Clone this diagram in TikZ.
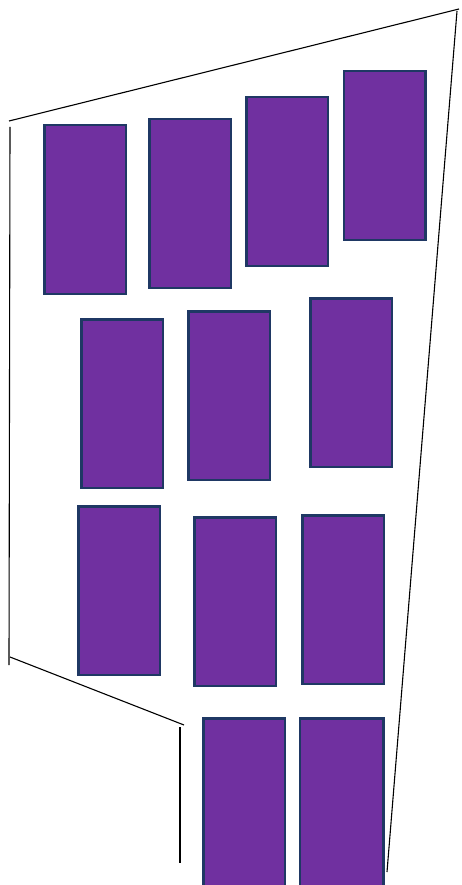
\documentclass[tikz,border=0pt]{standalone}
\usepackage{xcolor}
\usepackage{tikz}

\definecolor{plotpurple}{HTML}{7030A0}
\definecolor{plotedge}{HTML}{1F3864}

\begin{document}
\begin{tikzpicture}[
    x=1pt, y=-1pt,
    plot/.style={rectangle, draw=plotedge, fill=plotpurple, line width=2.5pt,
        minimum width=81.5pt, minimum height=168.5pt, inner sep=0pt},
    boundary/.style={draw=black, line width=1.1pt}
]
\useasboundingbox (0,0) rectangle (461,885);
\clip (0,0) rectangle (461,885);

% Boundary corners
    \coordinate (tl) at (9,121);
    \coordinate (tr) at (459,9);
    \coordinate (rt) at (457,11);
    \coordinate (rb) at (387,872);
    \coordinate (lt) at (10,127);
    \coordinate (lb) at (9,665);
    \coordinate (dl) at (10,657);
    \coordinate (dr) at (184,725);
    \coordinate (st) at (180,727);
    \coordinate (sb) at (180,863);

% --- Row 1
    \node[plot] (p11) at (85,209.5) {};
    \node[plot] (p12) at (190,203.5) {};
    \node[plot] (p13) at (287,181.5) {};
    \node[plot] (p14) at (384.5,155.5) {};
% --- Row 2
    \node[plot] (p21) at (122,403.5) {};
    \node[plot] (p22) at (229,395.5) {};
    \node[plot] (p23) at (351,382.5) {};
% --- Row 3
    \node[plot] (p31) at (119,590.5) {};
    \node[plot] (p32) at (235,601.5) {};
    \node[plot] (p33) at (343,599.5) {};
% --- Row 4 (runs off the bottom)
    \node[plot] (p41) at (244,802.5) {};
    \node[plot, minimum width=83.5pt] (p42) at (341.5,802.5) {};

% Boundary lines
    \draw[boundary] (tl) -- (tr);
    \draw[boundary] (rt) -- (rb);
    \draw[boundary] (lt) -- (lb);
    \draw[boundary] (dl) -- (dr);
    \draw[boundary] (st) -- (sb);
\end{tikzpicture}
\end{document}
